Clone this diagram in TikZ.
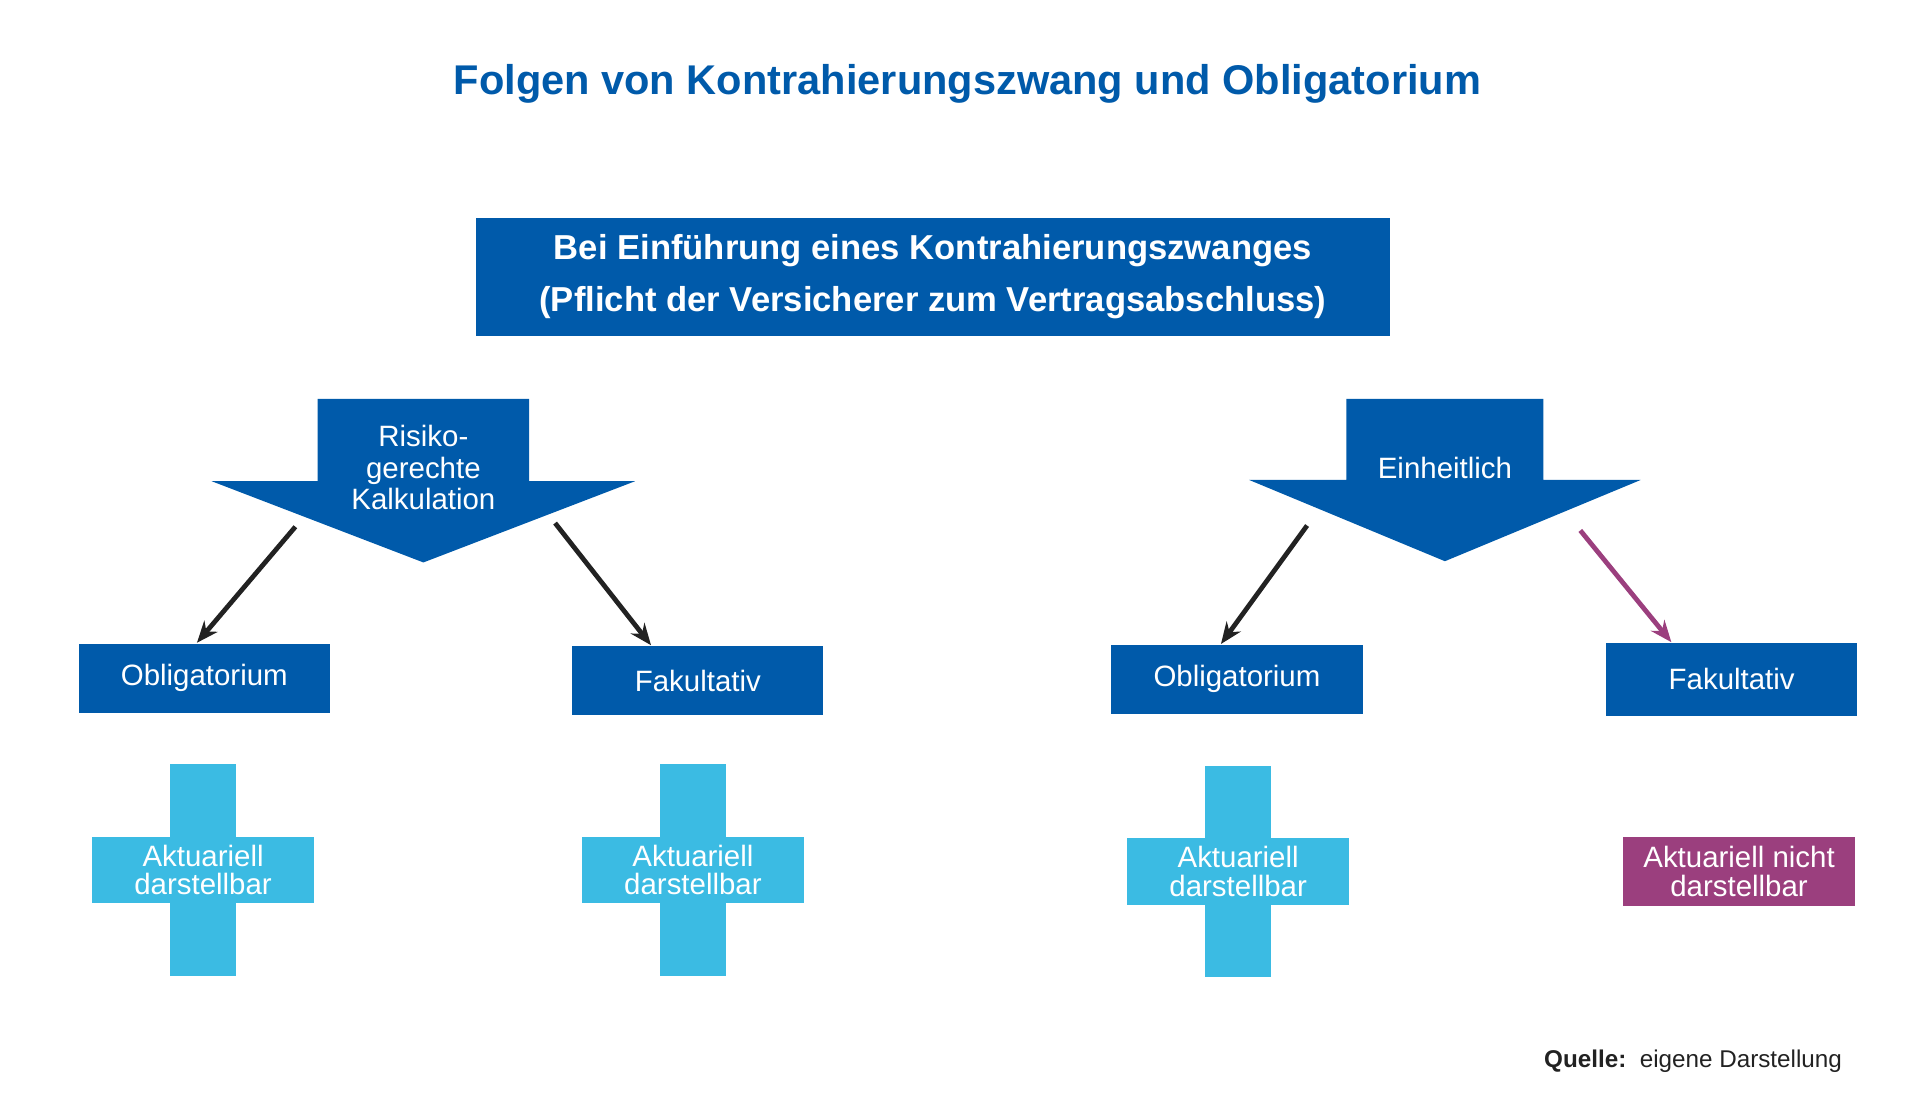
\documentclass[tikz,border=0pt]{standalone}
\usepackage{fontspec}
\usetikzlibrary{arrows.meta}
\setmainfont{Liberation Sans}
\definecolor{dblue}{HTML}{005AAA}
\definecolor{lblue}{HTML}{3BBBE3}
\definecolor{purp}{HTML}{9B3F7E}
\definecolor{dark}{HTML}{222222}
\begin{document}
\begin{tikzpicture}[x=0.01cm,y=-0.01cm,
  box/.style={fill=dblue,text=white,inner sep=0,align=center,font=\fontsize{6.8}{7.5}\selectfont},
  con/.style={-{Stealth[length=5pt,width=4pt]},line width=1.1pt,draw=dark}]
\useasboundingbox (0,0) rectangle (1560,898);
\node[text=dblue,font=\fontsize{9.6}{11}\selectfont\bfseries] (title) at (786,68) {Folgen von Kontrahierungszwang und Obligatorium};
\node[box,minimum width=7.42cm,minimum height=0.96cm,font=\fontsize{8}{12}\selectfont\bfseries] (top) at (758,225) {Bei Einführung eines Kontrahierungszwanges\\(Pflicht der Versicherer zum Vertragsabschluss)};
% arrow shapes
\fill[dblue] (258,324) -- (430,324) -- (430,391) -- (516,391) -- (344,457) -- (172,391) -- (258,391) -- cycle;
\node[text=white,align=center,font=\fontsize{6.8}{7.3}\selectfont] (la) at (344,380) {Risiko-\\gerechte\\Kalkulation};
\fill[dblue] (1094,324) -- (1254,324) -- (1254,390) -- (1333,390) -- (1174,456) -- (1015,390) -- (1094,390) -- cycle;
\node[text=white,font=\fontsize{6.8}{7.5}\selectfont] (ra) at (1174,380) {Einheitlich};
% boxes
\node[box,minimum width=2.04cm,minimum height=0.56cm] (o1) at (166,551) {Obligatorium};
\node[box,minimum width=2.04cm,minimum height=0.56cm] (f1) at (567,553) {Fakultativ};
\node[box,minimum width=2.05cm,minimum height=0.56cm] (o2) at (1005,552) {Obligatorium};
\node[box,minimum width=2.04cm,minimum height=0.59cm] (f2) at (1407,552) {Fakultativ};
% connectors
\coordinate (c1) at (240,428); \coordinate (c2) at (451,425);
\coordinate (c3) at (1062,427); \coordinate (c4) at (1284,431);
\draw[con] (c1) -- ([xshift=-0.06cm]o1.north);
\draw[con] (c2) -- ([xshift=-0.38cm]f1.north);
\draw[con] (c3) -- ([xshift=-0.13cm]o2.north);
\draw[con,draw=purp] (c4) -- ([xshift=-0.49cm]f2.north);
% crosses
\foreach \cx/\cy/\n in {165/707/k1,563/707/k2,1006/708/k3}{
  \fill[lblue] (\cx-27,\cy-86) rectangle (\cx+27,\cy+86);
  \fill[lblue] (\cx-90,\cy-27) rectangle (\cx+90,\cy+27);
  \node[text=white,align=center,font=\fontsize{6.8}{6.6}\selectfont] (\n) at (\cx,\cy) {Aktuariell\\darstellbar};
}
\node[fill=purp,text=white,align=center,minimum width=1.89cm,minimum height=0.56cm,inner sep=0,font=\fontsize{6.8}{6.6}\selectfont] (k4) at (1413,708) {Aktuariell nicht\\darstellbar};
\node[anchor=east,text=dark,font=\fontsize{5.6}{6}\selectfont] (q) at (1509,862) {\textbf{Quelle:}\ \ eigene Darstellung};
\end{tikzpicture}
\end{document}
